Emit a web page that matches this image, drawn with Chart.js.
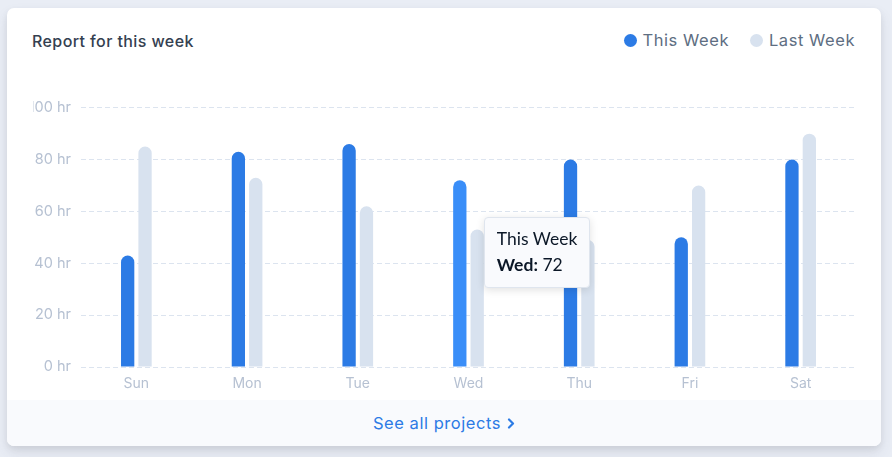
<!DOCTYPE html>
<html>
<head>
<meta charset="utf-8">
<script src="https://cdn.jsdelivr.net/npm/chart.js@4.4.1/dist/chart.umd.min.js"></script>
<style>
  html, body { margin:0; padding:0; }
  body { width:892px; height:457px; background:#e9edf5; position:relative; overflow:hidden; font-family:"Inter", sans-serif; }
  .card { position:absolute; left:7px; top:8px; width:874px; height:438px; background:#fff; border-radius:7px;
          box-shadow:0 7px 14px 0 rgba(65,69,88,0.10), 0 3px 6px 0 rgba(0,0,0,0.07); overflow:hidden; }
  .title { position:absolute; left:25px; top:23px; font-size:16px; font-weight:500; color:#344050; letter-spacing:0.4px; }
  .legend { position:absolute; right:26px; top:22px; display:flex; align-items:center; font-size:16.5px; color:#5e6e82; letter-spacing:0.55px; }
  .legend .item { display:flex; align-items:center; margin-left:21px; }
  .legend .dot { width:13px; height:13px; border-radius:50%; margin-right:6px; }
  .footer { position:absolute; left:0; right:0; bottom:0; height:46px; background:#f9fafd; display:flex; align-items:center; justify-content:center;
            color:#2c7be5; font-size:16.5px; letter-spacing:0.55px; }
  .footer svg { margin-left:6px; }
  #wrap { position:absolute; left:33px; top:89px; width:827px; height:311px; }
  #tip { position:absolute; display:none; background:#f9fafd; border:1px solid #dfe5ee; border-radius:4px; padding:8px 12px 9px 12px;
         font-family:"Lato", sans-serif; font-size:17.5px; color:#0b1727; line-height:26px; box-shadow:0 2px 8px rgba(0,0,0,0.12); white-space:nowrap; }
</style>
</head>
<body>
<div class="card">
  <div class="title">Report for this week</div>
  <div class="legend" id="legend"></div>
  <div class="footer">See all projects<svg width="8" height="11" viewBox="0 0 8 11"><path d="M2 1.5 L6 5.5 L2 9.5" stroke="#2c7be5" stroke-width="2.2" fill="none" stroke-linecap="round" stroke-linejoin="round"/></svg></div>
</div>
<div id="wrap"><canvas id="c"></canvas></div>
<div id="tip"></div>
<script>
const categories = ['Sun', 'Mon', 'Tue', 'Wed', 'Thu', 'Fri', 'Sat'];
const thisWeek = [43, 83, 86, 72, 80, 50, 80];
const lastWeek = [85, 73, 62, 53, 49, 70, 90];
const seriesLabels = ['This Week', 'Last Week'];
const yTicks = [0, 20, 40, 60, 80, 100];
const tickSuffix = ' hr';

const blue = '#2c7be5', blueHover = '#3a8ef8', grey = '#d8e2ef';

const tipEl = document.getElementById('tip');
function externalTooltip(context) {
  const {chart, tooltip} = context;
  if (tooltip.opacity === 0 || !tooltip.dataPoints || !tooltip.dataPoints.length) { tipEl.style.display = 'none'; return; }
  const dp = tooltip.dataPoints[0];
  tipEl.innerHTML = '<div>' + dp.dataset.label + '</div><div><b>' + dp.label + ':</b> ' + dp.formattedValue + '</div>';
  tipEl.style.display = 'block';
  const wrap = chart.canvas.parentNode;
  tipEl.style.left = (wrap.offsetLeft + tooltip.caretX + 24) + 'px';
  tipEl.style.top = (wrap.offsetTop + tooltip.caretY + 37) + 'px';
}

const chart = new Chart(document.getElementById('c'), {
  type: 'bar',
  data: {
    labels: categories,
    datasets: [
      { label: seriesLabels[0], data: thisWeek, backgroundColor: blue, hoverBackgroundColor: blueHover },
      { label: seriesLabels[1], data: lastWeek, backgroundColor: grey, hoverBackgroundColor: grey }
    ]
  },
  options: {
    responsive: true,
    maintainAspectRatio: false,
    animation: false,
    events: [],
    layout: { padding: { top: 10, right: 4, left: 0, bottom: 0 } },
    datasets: {
      bar: {
        categoryPercentage: 0.314,
        barPercentage: 0.765,
        borderRadius: { topLeft: 7, topRight: 7, bottomLeft: 0, bottomRight: 0 },
        borderSkipped: false
      }
    },
    plugins: {
      legend: { display: false },
      tooltip: { enabled: false, external: externalTooltip, mode: 'nearest', intersect: true }
    },
    scales: {
      x: {
        grid: { display: false, drawTicks: false },
        border: { display: false },
        ticks: { color: '#b6c1d2', font: { family: 'Inter', size: 14 }, padding: 8 },
        afterFit: s => { s.height = 33; }
      },
      y: {
        min: yTicks[0], max: yTicks[yTicks.length - 1],
        afterBuildTicks: s => { s.ticks = yTicks.map(v => ({ value: v })); },
        grid: { color: '#dce4ef', drawTicks: false, lineWidth: 1 },
        border: { display: false, dash: [5, 3] },
        ticks: { color: '#b6c1d2', font: { family: 'Inter', size: 14.5 }, padding: 10, callback: v => v + tickSuffix },
        afterFit: s => { s.width = 48; }
      }
    }
  }
});

// HTML legend generated from chart datasets
const lg = document.getElementById('legend');
chart.data.datasets.forEach(ds => {
  const it = document.createElement('div'); it.className = 'item';
  const d = document.createElement('span'); d.className = 'dot'; d.style.background = ds.backgroundColor;
  const t = document.createElement('span'); t.textContent = ds.label;
  it.appendChild(d); it.appendChild(t); lg.appendChild(it);
});

// Show hovered state for "This Week" / Wed
const active = [{ datasetIndex: 0, index: categories.indexOf('Wed') }];
chart.setActiveElements(active);
const el = chart.getDatasetMeta(0).data[active[0].index];
chart.tooltip.setActiveElements(active, { x: el.x, y: el.y });
chart.update('none');
</script>
</body>
</html>
